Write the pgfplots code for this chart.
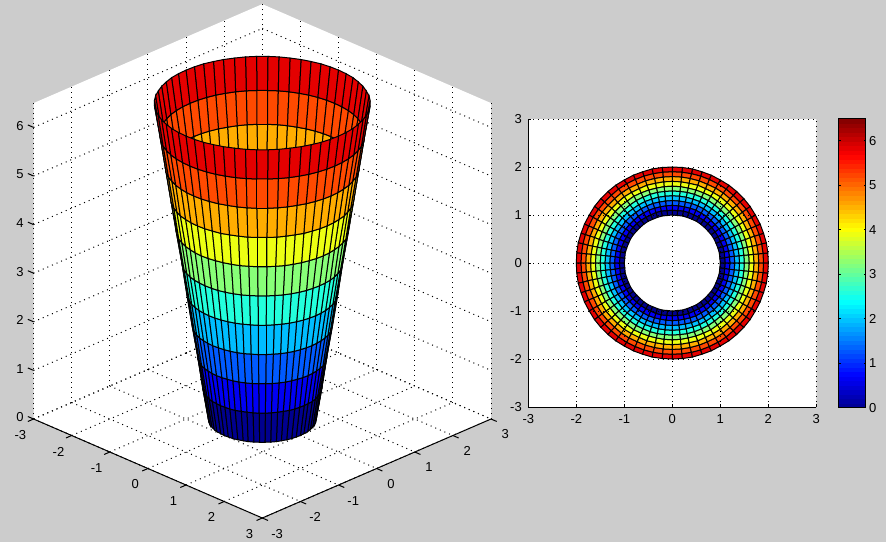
\documentclass[border=0pt]{standalone}
\usepackage{pgfplots}
\pgfplotsset{compat=1.18}
\usepackage{pgfplotstable}
\usepackage{fontspec}
\setmainfont{Liberation Sans}
\definecolor{figbg}{RGB}{204,204,204}
\pgfplotsset{
  colormap={mjet}{rgb255=(0,0,143) rgb255=(0,0,159) rgb255=(0,0,175) rgb255=(0,0,191) rgb255=(0,0,207) rgb255=(0,0,223) rgb255=(0,0,239) rgb255=(0,0,255)
  rgb255=(0,16,255) rgb255=(0,32,255) rgb255=(0,48,255) rgb255=(0,64,255) rgb255=(0,80,255) rgb255=(0,96,255) rgb255=(0,112,255) rgb255=(0,128,255)
  rgb255=(0,143,255) rgb255=(0,159,255) rgb255=(0,175,255) rgb255=(0,191,255) rgb255=(0,207,255) rgb255=(0,223,255) rgb255=(0,239,255) rgb255=(0,255,255)
  rgb255=(16,255,239) rgb255=(32,255,223) rgb255=(48,255,207) rgb255=(64,255,191) rgb255=(80,255,175) rgb255=(96,255,159) rgb255=(112,255,143) rgb255=(128,255,128)
  rgb255=(143,255,112) rgb255=(159,255,96) rgb255=(175,255,80) rgb255=(191,255,64) rgb255=(207,255,48) rgb255=(223,255,32) rgb255=(239,255,16) rgb255=(255,255,0)
  rgb255=(255,239,0) rgb255=(255,223,0) rgb255=(255,207,0) rgb255=(255,191,0) rgb255=(255,175,0) rgb255=(255,159,0) rgb255=(255,143,0) rgb255=(255,128,0)
  rgb255=(255,112,0) rgb255=(255,96,0) rgb255=(255,80,0) rgb255=(255,64,0) rgb255=(255,48,0) rgb255=(255,32,0) rgb255=(255,16,0) rgb255=(255,0,0)
  rgb255=(239,0,0) rgb255=(223,0,0) rgb255=(207,0,0) rgb255=(191,0,0) rgb255=(175,0,0) rgb255=(159,0,0) rgb255=(143,0,0) rgb255=(128,0,0)},
  tick label style={font=\fontsize{13}{14}\selectfont},
  grid style={black,line width=1pt,dash pattern=on 1pt off 4pt},
}
\pgfplotstableread{
x y z
1 0 0
.99 .1 0
.98 .21 0
.95 .31 0
.91 .41 0
.87 .5 0
.81 .59 0
.74 .67 0
.67 .74 0
.59 .81 0
.5 .87 0
.41 .91 0
.31 .95 0
.21 .98 0
.1 .99 0
0 1 0
-.1 .99 0
-.21 .98 0
-.31 .95 0
-.41 .91 0
-.5 .87 0
-.59 .81 0
-.67 .74 0
-.74 .67 0
-.81 .59 0
-.87 .5 0
-.91 .41 0
-.95 .31 0
-.98 .21 0
-.99 .1 0
-1 0 0
-.99 -.1 0
-.98 -.21 0
-.95 -.31 0
-.91 -.41 0
-.87 -.5 0
-.81 -.59 0
-.74 -.67 0
-.67 -.74 0
-.59 -.81 0
-.5 -.87 0
-.41 -.91 0
-.31 -.95 0
-.21 -.98 0
-.1 -.99 0
0 -1 0
.1 -.99 0
.21 -.98 0
.31 -.95 0
.41 -.91 0
.5 -.87 0
.59 -.81 0
.67 -.74 0
.74 -.67 0
.81 -.59 0
.87 -.5 0
.91 -.41 0
.95 -.31 0
.98 -.21 0
.99 -.1 0
1 0 0
1.1 0 .65
1.09 .11 .65
1.08 .23 .65
1.05 .34 .65
1 .45 .65
.95 .55 .65
.89 .65 .65
.82 .74 .65
.74 .82 .65
.65 .89 .65
.55 .95 .65
.45 1 .65
.34 1.05 .65
.23 1.08 .65
.11 1.09 .65
0 1.1 .65
-.11 1.09 .65
-.23 1.08 .65
-.34 1.05 .65
-.45 1 .65
-.55 .95 .65
-.65 .89 .65
-.74 .82 .65
-.82 .74 .65
-.89 .65 .65
-.95 .55 .65
-1 .45 .65
-1.05 .34 .65
-1.08 .23 .65
-1.09 .11 .65
-1.1 0 .65
-1.09 -.11 .65
-1.08 -.23 .65
-1.05 -.34 .65
-1 -.45 .65
-.95 -.55 .65
-.89 -.65 .65
-.82 -.74 .65
-.74 -.82 .65
-.65 -.89 .65
-.55 -.95 .65
-.45 -1 .65
-.34 -1.05 .65
-.23 -1.08 .65
-.11 -1.09 .65
0 -1.1 .65
.11 -1.09 .65
.23 -1.08 .65
.34 -1.05 .65
.45 -1 .65
.55 -.95 .65
.65 -.89 .65
.74 -.82 .65
.82 -.74 .65
.89 -.65 .65
.95 -.55 .65
1 -.45 .65
1.05 -.34 .65
1.08 -.23 .65
1.09 -.11 .65
1.1 0 .65
1.2 0 1.3
1.19 .13 1.3
1.17 .25 1.3
1.14 .37 1.3
1.1 .49 1.3
1.04 .6 1.3
.97 .71 1.3
.89 .8 1.3
.8 .89 1.3
.71 .97 1.3
.6 1.04 1.3
.49 1.1 1.3
.37 1.14 1.3
.25 1.17 1.3
.13 1.19 1.3
0 1.2 1.3
-.13 1.19 1.3
-.25 1.17 1.3
-.37 1.14 1.3
-.49 1.1 1.3
-.6 1.04 1.3
-.71 .97 1.3
-.8 .89 1.3
-.89 .8 1.3
-.97 .71 1.3
-1.04 .6 1.3
-1.1 .49 1.3
-1.14 .37 1.3
-1.17 .25 1.3
-1.19 .13 1.3
-1.2 0 1.3
-1.19 -.13 1.3
-1.17 -.25 1.3
-1.14 -.37 1.3
-1.1 -.49 1.3
-1.04 -.6 1.3
-.97 -.71 1.3
-.89 -.8 1.3
-.8 -.89 1.3
-.71 -.97 1.3
-.6 -1.04 1.3
-.49 -1.1 1.3
-.37 -1.14 1.3
-.25 -1.17 1.3
-.13 -1.19 1.3
0 -1.2 1.3
.13 -1.19 1.3
.25 -1.17 1.3
.37 -1.14 1.3
.49 -1.1 1.3
.6 -1.04 1.3
.71 -.97 1.3
.8 -.89 1.3
.89 -.8 1.3
.97 -.71 1.3
1.04 -.6 1.3
1.1 -.49 1.3
1.14 -.37 1.3
1.17 -.25 1.3
1.19 -.13 1.3
1.2 0 1.3
1.3 0 1.95
1.29 .14 1.95
1.27 .27 1.95
1.24 .4 1.95
1.19 .53 1.95
1.13 .65 1.95
1.05 .76 1.95
.97 .87 1.95
.87 .97 1.95
.76 1.05 1.95
.65 1.13 1.95
.53 1.19 1.95
.4 1.24 1.95
.27 1.27 1.95
.14 1.29 1.95
0 1.3 1.95
-.14 1.29 1.95
-.27 1.27 1.95
-.4 1.24 1.95
-.53 1.19 1.95
-.65 1.13 1.95
-.76 1.05 1.95
-.87 .97 1.95
-.97 .87 1.95
-1.05 .76 1.95
-1.13 .65 1.95
-1.19 .53 1.95
-1.24 .4 1.95
-1.27 .27 1.95
-1.29 .14 1.95
-1.3 0 1.95
-1.29 -.14 1.95
-1.27 -.27 1.95
-1.24 -.4 1.95
-1.19 -.53 1.95
-1.13 -.65 1.95
-1.05 -.76 1.95
-.97 -.87 1.95
-.87 -.97 1.95
-.76 -1.05 1.95
-.65 -1.13 1.95
-.53 -1.19 1.95
-.4 -1.24 1.95
-.27 -1.27 1.95
-.14 -1.29 1.95
0 -1.3 1.95
.14 -1.29 1.95
.27 -1.27 1.95
.4 -1.24 1.95
.53 -1.19 1.95
.65 -1.13 1.95
.76 -1.05 1.95
.87 -.97 1.95
.97 -.87 1.95
1.05 -.76 1.95
1.13 -.65 1.95
1.19 -.53 1.95
1.24 -.4 1.95
1.27 -.27 1.95
1.29 -.14 1.95
1.3 0 1.95
1.4 0 2.6
1.39 .15 2.6
1.37 .29 2.6
1.33 .43 2.6
1.28 .57 2.6
1.21 .7 2.6
1.13 .82 2.6
1.04 .94 2.6
.94 1.04 2.6
.82 1.13 2.6
.7 1.21 2.6
.57 1.28 2.6
.43 1.33 2.6
.29 1.37 2.6
.15 1.39 2.6
0 1.4 2.6
-.15 1.39 2.6
-.29 1.37 2.6
-.43 1.33 2.6
-.57 1.28 2.6
-.7 1.21 2.6
-.82 1.13 2.6
-.94 1.04 2.6
-1.04 .94 2.6
-1.13 .82 2.6
-1.21 .7 2.6
-1.28 .57 2.6
-1.33 .43 2.6
-1.37 .29 2.6
-1.39 .15 2.6
-1.4 0 2.6
-1.39 -.15 2.6
-1.37 -.29 2.6
-1.33 -.43 2.6
-1.28 -.57 2.6
-1.21 -.7 2.6
-1.13 -.82 2.6
-1.04 -.94 2.6
-.94 -1.04 2.6
-.82 -1.13 2.6
-.7 -1.21 2.6
-.57 -1.28 2.6
-.43 -1.33 2.6
-.29 -1.37 2.6
-.15 -1.39 2.6
0 -1.4 2.6
.15 -1.39 2.6
.29 -1.37 2.6
.43 -1.33 2.6
.57 -1.28 2.6
.7 -1.21 2.6
.82 -1.13 2.6
.94 -1.04 2.6
1.04 -.94 2.6
1.13 -.82 2.6
1.21 -.7 2.6
1.28 -.57 2.6
1.33 -.43 2.6
1.37 -.29 2.6
1.39 -.15 2.6
1.4 0 2.6
1.5 0 3.25
1.49 .16 3.25
1.47 .31 3.25
1.43 .46 3.25
1.37 .61 3.25
1.3 .75 3.25
1.21 .88 3.25
1.11 1 3.25
1 1.11 3.25
.88 1.21 3.25
.75 1.3 3.25
.61 1.37 3.25
.46 1.43 3.25
.31 1.47 3.25
.16 1.49 3.25
0 1.5 3.25
-.16 1.49 3.25
-.31 1.47 3.25
-.46 1.43 3.25
-.61 1.37 3.25
-.75 1.3 3.25
-.88 1.21 3.25
-1 1.11 3.25
-1.11 1 3.25
-1.21 .88 3.25
-1.3 .75 3.25
-1.37 .61 3.25
-1.43 .46 3.25
-1.47 .31 3.25
-1.49 .16 3.25
-1.5 0 3.25
-1.49 -.16 3.25
-1.47 -.31 3.25
-1.43 -.46 3.25
-1.37 -.61 3.25
-1.3 -.75 3.25
-1.21 -.88 3.25
-1.11 -1 3.25
-1 -1.11 3.25
-.88 -1.21 3.25
-.75 -1.3 3.25
-.61 -1.37 3.25
-.46 -1.43 3.25
-.31 -1.47 3.25
-.16 -1.49 3.25
0 -1.5 3.25
.16 -1.49 3.25
.31 -1.47 3.25
.46 -1.43 3.25
.61 -1.37 3.25
.75 -1.3 3.25
.88 -1.21 3.25
1 -1.11 3.25
1.11 -1 3.25
1.21 -.88 3.25
1.3 -.75 3.25
1.37 -.61 3.25
1.43 -.46 3.25
1.47 -.31 3.25
1.49 -.16 3.25
1.5 0 3.25
1.6 0 3.9
1.59 .17 3.9
1.56 .33 3.9
1.52 .49 3.9
1.46 .65 3.9
1.39 .8 3.9
1.29 .94 3.9
1.19 1.07 3.9
1.07 1.19 3.9
.94 1.29 3.9
.8 1.39 3.9
.65 1.46 3.9
.49 1.52 3.9
.33 1.56 3.9
.17 1.59 3.9
0 1.6 3.9
-.17 1.59 3.9
-.33 1.56 3.9
-.49 1.52 3.9
-.65 1.46 3.9
-.8 1.39 3.9
-.94 1.29 3.9
-1.07 1.19 3.9
-1.19 1.07 3.9
-1.29 .94 3.9
-1.39 .8 3.9
-1.46 .65 3.9
-1.52 .49 3.9
-1.56 .33 3.9
-1.59 .17 3.9
-1.6 0 3.9
-1.59 -.17 3.9
-1.56 -.33 3.9
-1.52 -.49 3.9
-1.46 -.65 3.9
-1.39 -.8 3.9
-1.29 -.94 3.9
-1.19 -1.07 3.9
-1.07 -1.19 3.9
-.94 -1.29 3.9
-.8 -1.39 3.9
-.65 -1.46 3.9
-.49 -1.52 3.9
-.33 -1.56 3.9
-.17 -1.59 3.9
0 -1.6 3.9
.17 -1.59 3.9
.33 -1.56 3.9
.49 -1.52 3.9
.65 -1.46 3.9
.8 -1.39 3.9
.94 -1.29 3.9
1.07 -1.19 3.9
1.19 -1.07 3.9
1.29 -.94 3.9
1.39 -.8 3.9
1.46 -.65 3.9
1.52 -.49 3.9
1.56 -.33 3.9
1.59 -.17 3.9
1.6 0 3.9
1.7 0 4.55
1.69 .18 4.55
1.66 .35 4.55
1.62 .53 4.55
1.55 .69 4.55
1.47 .85 4.55
1.38 1 4.55
1.26 1.14 4.55
1.14 1.26 4.55
1 1.38 4.55
.85 1.47 4.55
.69 1.55 4.55
.53 1.62 4.55
.35 1.66 4.55
.18 1.69 4.55
0 1.7 4.55
-.18 1.69 4.55
-.35 1.66 4.55
-.53 1.62 4.55
-.69 1.55 4.55
-.85 1.47 4.55
-1 1.38 4.55
-1.14 1.26 4.55
-1.26 1.14 4.55
-1.38 1 4.55
-1.47 .85 4.55
-1.55 .69 4.55
-1.62 .53 4.55
-1.66 .35 4.55
-1.69 .18 4.55
-1.7 0 4.55
-1.69 -.18 4.55
-1.66 -.35 4.55
-1.62 -.53 4.55
-1.55 -.69 4.55
-1.47 -.85 4.55
-1.38 -1 4.55
-1.26 -1.14 4.55
-1.14 -1.26 4.55
-1 -1.38 4.55
-.85 -1.47 4.55
-.69 -1.55 4.55
-.53 -1.62 4.55
-.35 -1.66 4.55
-.18 -1.69 4.55
0 -1.7 4.55
.18 -1.69 4.55
.35 -1.66 4.55
.53 -1.62 4.55
.69 -1.55 4.55
.85 -1.47 4.55
1 -1.38 4.55
1.14 -1.26 4.55
1.26 -1.14 4.55
1.38 -1 4.55
1.47 -.85 4.55
1.55 -.69 4.55
1.62 -.53 4.55
1.66 -.35 4.55
1.69 -.18 4.55
1.7 0 4.55
1.8 0 5.2
1.79 .19 5.2
1.76 .37 5.2
1.71 .56 5.2
1.64 .73 5.2
1.56 .9 5.2
1.46 1.06 5.2
1.34 1.2 5.2
1.2 1.34 5.2
1.06 1.46 5.2
.9 1.56 5.2
.73 1.64 5.2
.56 1.71 5.2
.37 1.76 5.2
.19 1.79 5.2
0 1.8 5.2
-.19 1.79 5.2
-.37 1.76 5.2
-.56 1.71 5.2
-.73 1.64 5.2
-.9 1.56 5.2
-1.06 1.46 5.2
-1.2 1.34 5.2
-1.34 1.2 5.2
-1.46 1.06 5.2
-1.56 .9 5.2
-1.64 .73 5.2
-1.71 .56 5.2
-1.76 .37 5.2
-1.79 .19 5.2
-1.8 0 5.2
-1.79 -.19 5.2
-1.76 -.37 5.2
-1.71 -.56 5.2
-1.64 -.73 5.2
-1.56 -.9 5.2
-1.46 -1.06 5.2
-1.34 -1.2 5.2
-1.2 -1.34 5.2
-1.06 -1.46 5.2
-.9 -1.56 5.2
-.73 -1.64 5.2
-.56 -1.71 5.2
-.37 -1.76 5.2
-.19 -1.79 5.2
0 -1.8 5.2
.19 -1.79 5.2
.37 -1.76 5.2
.56 -1.71 5.2
.73 -1.64 5.2
.9 -1.56 5.2
1.06 -1.46 5.2
1.2 -1.34 5.2
1.34 -1.2 5.2
1.46 -1.06 5.2
1.56 -.9 5.2
1.64 -.73 5.2
1.71 -.56 5.2
1.76 -.37 5.2
1.79 -.19 5.2
1.8 0 5.2
1.9 0 5.85
1.89 .2 5.85
1.86 .4 5.85
1.81 .59 5.85
1.74 .77 5.85
1.65 .95 5.85
1.54 1.12 5.85
1.41 1.27 5.85
1.27 1.41 5.85
1.12 1.54 5.85
.95 1.65 5.85
.77 1.74 5.85
.59 1.81 5.85
.4 1.86 5.85
.2 1.89 5.85
0 1.9 5.85
-.2 1.89 5.85
-.4 1.86 5.85
-.59 1.81 5.85
-.77 1.74 5.85
-.95 1.65 5.85
-1.12 1.54 5.85
-1.27 1.41 5.85
-1.41 1.27 5.85
-1.54 1.12 5.85
-1.65 .95 5.85
-1.74 .77 5.85
-1.81 .59 5.85
-1.86 .4 5.85
-1.89 .2 5.85
-1.9 0 5.85
-1.89 -.2 5.85
-1.86 -.4 5.85
-1.81 -.59 5.85
-1.74 -.77 5.85
-1.65 -.95 5.85
-1.54 -1.12 5.85
-1.41 -1.27 5.85
-1.27 -1.41 5.85
-1.12 -1.54 5.85
-.95 -1.65 5.85
-.77 -1.74 5.85
-.59 -1.81 5.85
-.4 -1.86 5.85
-.2 -1.89 5.85
0 -1.9 5.85
.2 -1.89 5.85
.4 -1.86 5.85
.59 -1.81 5.85
.77 -1.74 5.85
.95 -1.65 5.85
1.12 -1.54 5.85
1.27 -1.41 5.85
1.41 -1.27 5.85
1.54 -1.12 5.85
1.65 -.95 5.85
1.74 -.77 5.85
1.81 -.59 5.85
1.86 -.4 5.85
1.89 -.2 5.85
1.9 0 5.85
2 0 6.5
1.99 .21 6.5
1.96 .42 6.5
1.9 .62 6.5
1.83 .81 6.5
1.73 1 6.5
1.62 1.18 6.5
1.49 1.34 6.5
1.34 1.49 6.5
1.18 1.62 6.5
1 1.73 6.5
.81 1.83 6.5
.62 1.9 6.5
.42 1.96 6.5
.21 1.99 6.5
0 2 6.5
-.21 1.99 6.5
-.42 1.96 6.5
-.62 1.9 6.5
-.81 1.83 6.5
-1 1.73 6.5
-1.18 1.62 6.5
-1.34 1.49 6.5
-1.49 1.34 6.5
-1.62 1.18 6.5
-1.73 1 6.5
-1.83 .81 6.5
-1.9 .62 6.5
-1.96 .42 6.5
-1.99 .21 6.5
-2 0 6.5
-1.99 -.21 6.5
-1.96 -.42 6.5
-1.9 -.62 6.5
-1.83 -.81 6.5
-1.73 -1 6.5
-1.62 -1.18 6.5
-1.49 -1.34 6.5
-1.34 -1.49 6.5
-1.18 -1.62 6.5
-1 -1.73 6.5
-.81 -1.83 6.5
-.62 -1.9 6.5
-.42 -1.96 6.5
-.21 -1.99 6.5
0 -2 6.5
.21 -1.99 6.5
.42 -1.96 6.5
.62 -1.9 6.5
.81 -1.83 6.5
1 -1.73 6.5
1.18 -1.62 6.5
1.34 -1.49 6.5
1.49 -1.34 6.5
1.62 -1.18 6.5
1.73 -1 6.5
1.83 -.81 6.5
1.9 -.62 6.5
1.96 -.42 6.5
1.99 -.21 6.5
2 0 6.5
}\cone
\begin{document}
\begin{tikzpicture}
\path[use as bounding box,fill=figbg] (0,0) rectangle (886pt,542pt);
\fill[white] (33.6pt,123pt) -- (262.3pt,24pt) -- (491pt,123pt) -- (491pt,438.9pt) -- (262.3pt,537.9pt) -- (33.6pt,438.9pt) -- cycle;
\begin{axis}[
  at={(262.3pt,123pt)},anchor=origin,
  x={(38.12pt,-16.5pt)},y={(38.12pt,16.5pt)},z={(0pt,48.6pt)},
  xmin=-3,xmax=3,ymin=-3,ymax=3,zmin=0,zmax=6.5,
  xtick={-3,...,3},ytick={-3,...,3},ztick={0,...,6},
  xticklabels={-3,-2,-1,0,1,2,3},yticklabels={-3,-2,-1,0,1,2,3},zticklabels={0,1,2,3,4,5,6},
  xticklabel style={xshift=-1.5pt,yshift=-4.5pt},
  yticklabel style={xshift=3pt,yshift=-4pt},
  zticklabel style={xshift=-1pt,yshift=4pt},
  grid=major,
  colormap name=mjet,
  point meta min=0,point meta max=6.5,
  axis line style={draw=none},
  tick style={draw=none},
  tick align=outside,major tick length=6pt,
  clip=false,
]
\addplot3[surf,shader=flat corner,draw=black,line width=1pt,z buffer=sort,mesh/rows=11,mesh/cols=61] table[x=x,y=y,z=z] {\cone};
\draw[black,line width=1pt] (axis cs:-3,-3,0) -- (axis cs:3,-3,0) -- (axis cs:3,3,0);
\pgfplotsinvokeforeach{-3,-2,-1,0,1,2,3}{
  \draw[black,line width=1pt] (axis cs:#1,-3,0) -- (axis cs:#1,-3.15,0);
  \draw[black,line width=1pt] (axis cs:3,#1,0) -- (axis cs:3.15,#1,0);
}
\pgfplotsinvokeforeach{0,1,2,3,4,5,6}{
  \draw[black,line width=1pt] (axis cs:-3,-3,#1) -- (axis cs:-3.15,-3,#1);
}
\end{axis}
\begin{axis}[
  at={(528.3pt,135pt)},anchor=south west,
  scale only axis,width=288pt,height=288pt,
  xmin=-3,xmax=3,ymin=-3,ymax=3,
  view={0}{90},
  xtick={-3,...,3},ytick={-3,...,3},
  xticklabels={-3,-2,-1,0,1,2,3},yticklabels={-3,-2,-1,0,1,2,3},
  xticklabel style={yshift=-4pt},
  yticklabel style={xshift=-3pt},
  grid=major,
  axis background/.style={fill=white},
  axis x line*=bottom,axis y line*=left,
  axis line style={line width=1pt,-},
  tick style={black,line width=1pt},
  tick align=inside,major tick length=3pt,
  colormap name=mjet,
  point meta min=0,point meta max=6.5,
  colorbar sampled,
  colorbar style={
    samples=65,
    at={(830pt,134.3pt)},anchor=south west,
    scale only axis,width=27pt,height=289.4pt,
    ytick={0,...,6},yticklabels={0,1,2,3,4,5,6},
    yticklabel pos=right,
    tick align=inside,major tick length=2pt,
    tick style={black,line width=1pt},
    axis line style={line width=1pt},
    xtick=\empty,
  },
]
\addplot3[surf,shader=flat corner,draw=black,line width=1pt,mesh/rows=11,mesh/cols=61] table[x=x,y=y,z=z] {\cone};
\end{axis}
\end{tikzpicture}
\end{document}
